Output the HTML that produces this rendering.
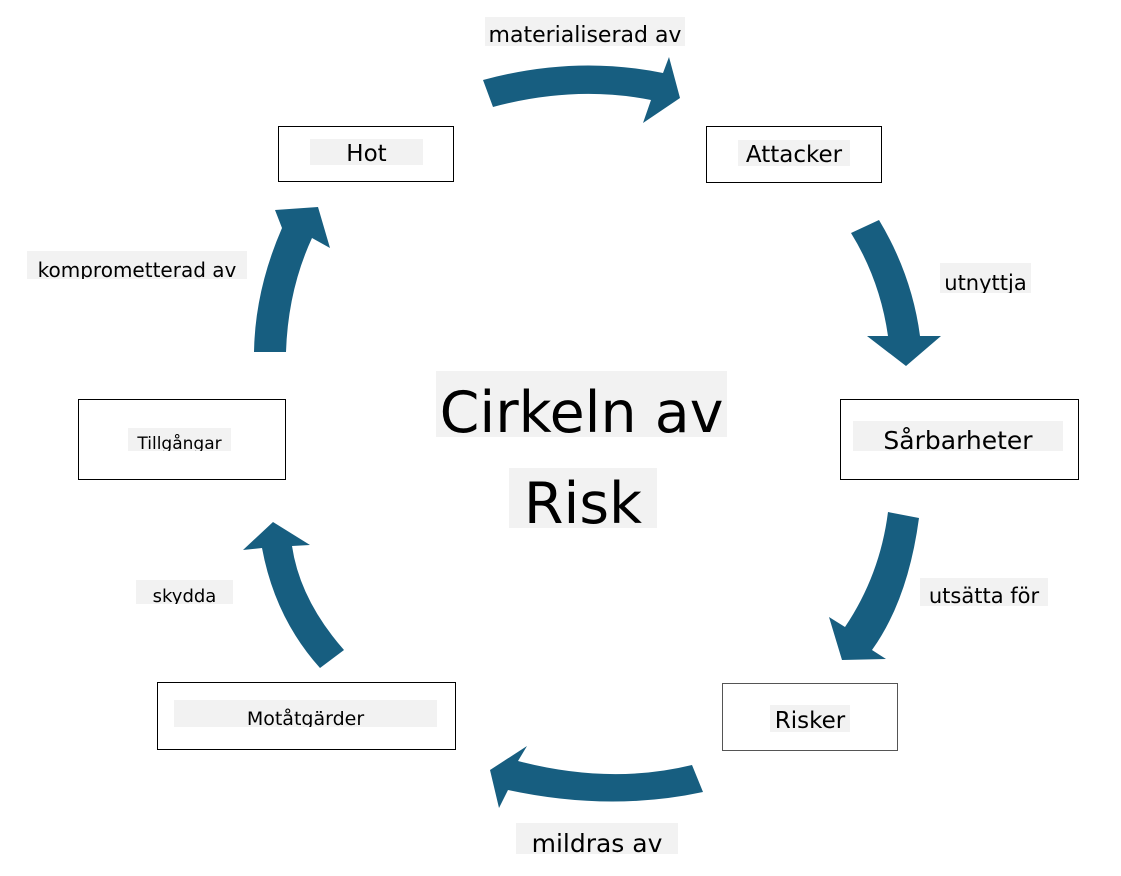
<!DOCTYPE html>
<html><head><meta charset="utf-8"><style>
body{margin:0;width:1121px;height:876px;background:#fff;overflow:hidden;position:relative;font-family:"DejaVu Sans","Liberation Sans",sans-serif;}
.b{position:absolute;border:1px solid #000;box-sizing:border-box;background:#fff}
.l{position:absolute;background:#f2f2f2;color:#000;white-space:nowrap;line-height:0.85;display:flex;align-items:flex-end;justify-content:center;overflow:hidden}
svg{position:absolute;left:0;top:0}
</style></head><body>
<svg width="1121" height="876">
<g fill="#175e80">
<path d="M483,80 Q575,55 663,73 L669,57 L680,98 L643,123 L651,100 Q575,85 493,107 Z"/>
<path d="M851,233 L879,220 Q912,275 920,336 L941,336 L906,366 L867,336 L888,336 Q880,280 851,233 Z"/>
<path d="M888,512 L919,518 Q908,600 872,650 L886,659 L842,660 L829,617 L845,627 Q880,575 888,512 Z"/>
<path d="M692,765 L703,792 Q610,812 508,790 L499,808 L490,770 L527,746 L518,761 Q610,785 692,765 Z"/>
<path d="M320,668 L344,650 Q300,600 292,546 L310,545 L273,522 L243,550 L262,548 Q275,618 320,668 Z"/>
<path d="M254,352 L286,352 Q288,290 312,238 L330,248 L318,207 L275,210 L282,228 Q255,290 254,352 Z"/>
</g></svg>
<div class="b" style="left:278px;top:126px;width:176px;height:56px"></div>
<div class="b" style="left:706px;top:126px;width:176px;height:57px"></div>
<div class="b" style="left:840px;top:399px;width:239px;height:81px"></div>
<div class="b" style="left:722px;top:683px;width:176px;height:68px;border-color:#555"></div>
<div class="b" style="left:157px;top:682px;width:299px;height:68px"></div>
<div class="b" style="left:78px;top:399px;width:208px;height:81px"></div>
<div class="l" style="left:310px;top:139px;width:113px;height:26px;font-size:23px">Hot</div>
<div class="l" style="left:738px;top:140px;width:112px;height:26px;font-size:23px">Attacker</div>
<div class="l" style="left:853px;top:421px;width:210px;height:30px;font-size:25px">Sårbarheter</div>
<div class="l" style="left:770px;top:705px;width:80px;height:27px;font-size:23px">Risker</div>
<div class="l" style="left:174px;top:700px;width:263px;height:27px;font-size:19px">Motåtgärder</div>
<div class="l" style="left:128px;top:428px;width:103px;height:23px;font-size:17px">Tillgångar</div>
<div class="l" style="left:485px;top:17px;width:200px;height:29px;font-size:22px">materialiserad av</div>
<div class="l" style="left:940px;top:263px;width:91px;height:30px;font-size:21px">utnyttja</div>
<div class="l" style="left:920px;top:578px;width:128px;height:28px;font-size:21px">utsätta för</div>
<div class="l" style="left:516px;top:823px;width:162px;height:31px;font-size:25px">mildras av</div>
<div class="l" style="left:136px;top:580px;width:97px;height:24px;font-size:18px">skydda</div>
<div class="l" style="left:27px;top:251px;width:220px;height:28px;font-size:20px">komprometterad av</div>
<div class="l" style="left:436px;top:371px;width:291px;height:66px;font-size:57px">Cirkeln av</div>
<div class="l" style="left:509px;top:468px;width:148px;height:60px;font-size:57px">Risk</div>
</body></html>
